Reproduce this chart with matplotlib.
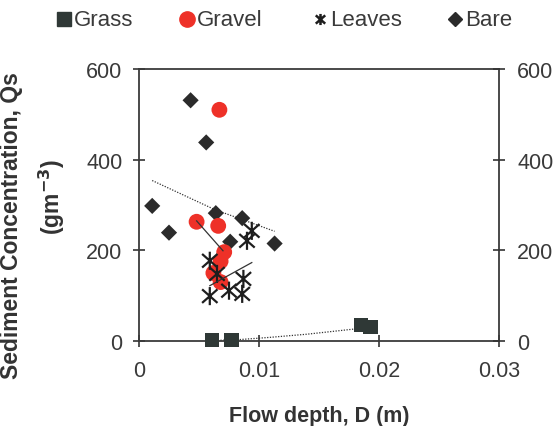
import matplotlib
matplotlib.use("Agg")
import matplotlib.pyplot as plt
from matplotlib.path import Path
from matplotlib.lines import Line2D

plt.rcParams['font.family'] = ['Liberation Sans', 'DejaVu Sans']

# ---- data ----
grass_x = [0.0061, 0.0077, 0.0185, 0.0193]
grass_y = [2, 2, 35, 31]

gravel_x = [0.0067, 0.0048, 0.0066, 0.0071, 0.0068, 0.0062, 0.0068]
gravel_y = [510, 263, 254, 196, 176, 150, 130]

leaves_x = [0.0059, 0.0065, 0.0059, 0.0075, 0.0087, 0.0086, 0.0090, 0.0094]
leaves_y = [177, 148, 99, 111, 137, 104, 221, 243]

bare_x = [0.0043, 0.0056, 0.0011, 0.0025, 0.0064, 0.0086, 0.0076, 0.0113]
bare_y = [531, 438, 298, 239, 282, 271, 219, 215]

# trend lines
grass_trend_x = [0.0061, 0.0083, 0.0109, 0.0140, 0.0185]
grass_trend_y = [1, 3, 8, 15, 28]
gravel_trend_x = [0.0048, 0.0070]
gravel_trend_y = [265, 199]
leaves_trend_x = [0.0059, 0.0094]
leaves_trend_y = [122, 173]
bare_trend_x = [0.0011, 0.0063, 0.0113]
bare_trend_y = [354, 290, 242]

x_ticks = [0, 0.01, 0.02, 0.03]
x_ticklabels = ['0', '0.01', '0.02', '0.03']
y_ticks = [0, 200, 400, 600]
series_labels = ['Grass', 'Gravel', 'Leaves', 'Bare']

# ---- figure ----
W, H = 555, 427
fig = plt.figure(figsize=(W / 100, H / 100), dpi=100)
ax = fig.add_axes([139 / W, 1 - 342 / H, 360 / W, 272 / H])

asterisk = Path([(0, -1), (0, 1), (-0.85, -0.75), (0.85, 0.75), (-0.85, 0.75), (0.85, -0.75)],
                [Path.MOVETO, Path.LINETO, Path.MOVETO, Path.LINETO, Path.MOVETO, Path.LINETO])

dark = '#2b2b2b'
grass_c = '#2f3836'
red = '#ee3128'
ast_c = '#1e1e1e'
txt_c = '#3a3a3a'

# trend lines
ax.plot(bare_trend_x, bare_trend_y, color='#333333', lw=0.9, ls=(0, (1, 1.2)), zorder=2)
ax.plot(grass_trend_x, grass_trend_y, color='#333333', lw=0.9, ls=(0, (1, 1.2)), zorder=2)
ax.plot(gravel_trend_x, gravel_trend_y, color='#333333', lw=0.9, zorder=5)
ax.plot(leaves_trend_x, leaves_trend_y, color='#333333', lw=0.9, zorder=5)

ax.scatter(bare_x, bare_y, marker='D', s=68, color=dark, edgecolors='none', zorder=3)
ax.scatter(gravel_x, gravel_y, marker='o', s=130, color=red, edgecolors='none', zorder=3)
ax.scatter(leaves_x, leaves_y, marker=asterisk, s=170, facecolors='none', edgecolors=ast_c,
           linewidths=1.6, zorder=4)
ax.scatter(grass_x, grass_y, marker='s', s=110, color=grass_c, edgecolors='none', zorder=4,
           clip_on=False)

ax.set_xlim(0, 0.03)
ax.set_ylim(0, 600)
ax.set_xticks(x_ticks)
ax.set_xticklabels(x_ticklabels)
ax.set_yticks(y_ticks)
ax.tick_params(axis='both', direction='inout', length=8, width=1.2, labelsize=15.5,
               colors='#333333', labelcolor=txt_c)
ax.tick_params(axis='x', pad=10)
ax.tick_params(axis='y', pad=8)
for sp in ax.spines.values():
    sp.set_linewidth(1.3)
    sp.set_color('#3a3a3a')

ax2 = ax.twinx()
ax2.set_ylim(0, 600)
ax2.set_yticks(y_ticks)
ax2.tick_params(axis='y', direction='inout', length=8, width=1.2, labelsize=15.5,
                colors='#333333', labelcolor=txt_c, pad=9)
for sp in ax2.spines.values():
    sp.set_visible(False)

ax.set_xlabel('Flow depth, D (m)', fontsize=15.5, fontweight='bold', color='#333333', labelpad=17)

fig.text(12 / W, 1 - 226 / H, 'Sediment Concentration, Qs', rotation=90, ha='center', va='center',
         fontsize=16.5, fontweight='bold', color='#333333')
fig.text(52 / W, 1 - 197 / H, '(gm$^{\\mathbf{-3}}$)', rotation=90, ha='center', va='center',
         fontsize=16.5, fontweight='bold', color='#333333')

# legend (manual, across the top)
leg_markers = [
    dict(marker='s', color=grass_c, markersize=9.5),
    dict(marker='o', color=red, markersize=11),
    dict(marker=asterisk, color=ast_c, markersize=8, markeredgewidth=1.8),
    dict(marker='D', color=dark, markersize=7.5),
]
leg_cx = [63.5, 186.5, 320, 455]
leg_y = 1 - 20 / H
for cx, mk, lab in zip(leg_cx, leg_markers, series_labels):
    fig.add_artist(Line2D([cx / W], [leg_y], transform=fig.transFigure, ls='none', **mk))
    fig.text((cx + 10) / W, leg_y, lab, ha='left', va='center', fontsize=16, color=txt_c)

fig.savefig('out.png', dpi=100)
